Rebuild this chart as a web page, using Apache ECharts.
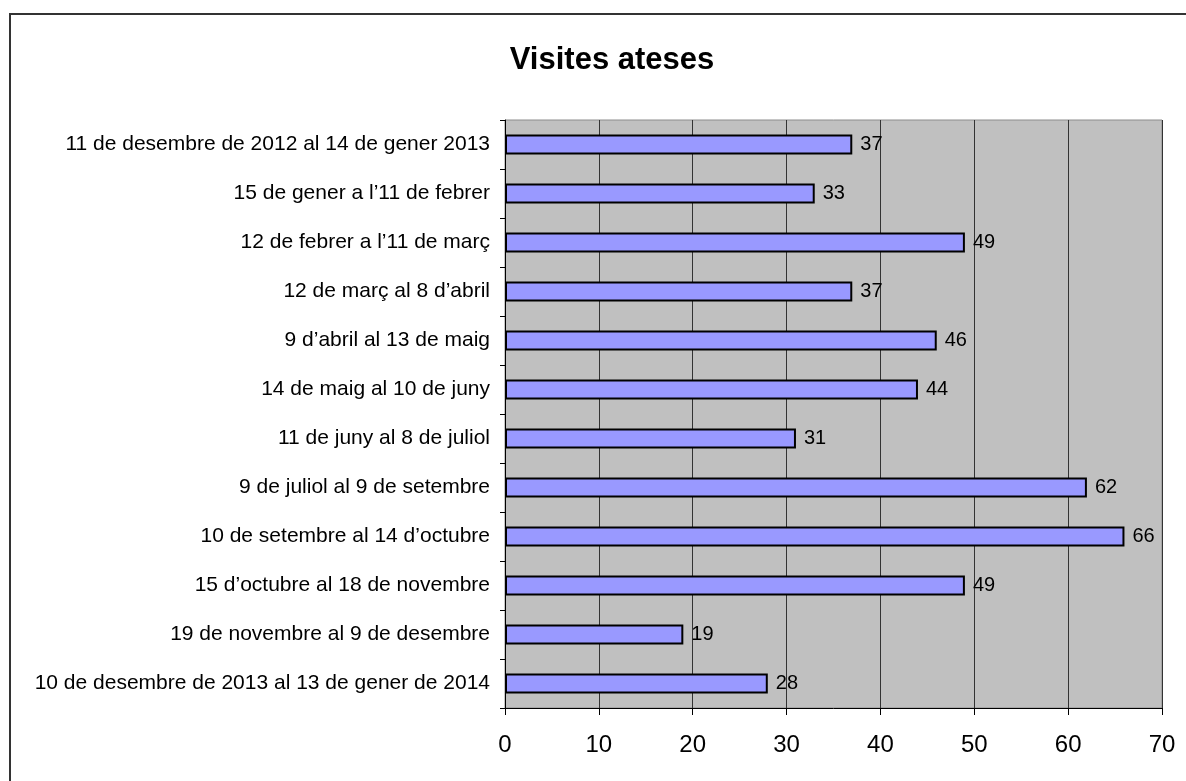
<!DOCTYPE html>
<html>
<head>
<meta charset="utf-8">
<script src="https://cdn.jsdelivr.net/npm/echarts@6/dist/echarts.min.js"></script>
<style>
  html, body { margin: 0; padding: 0; background: #fff; }
  #chart { width: 1186px; height: 781px; }
</style>
</head>
<body>
<div id="chart"></div>
<script>
// periodes (de dalt a baix)
const periodes = [
  '11 de desembre de 2012 al 14 de gener 2013',
  '15 de gener a l\u201911 de febrer',
  '12 de febrer a l\u201911 de març',
  '12 de març al 8 d\u2019abril',
  '9 d\u2019abril al 13 de maig',
  '14 de maig al 10 de juny',
  '11 de juny al 8 de juliol',
  '9 de juliol al 9 de setembre',
  '10 de setembre al 14 d\u2019octubre',
  '15 d\u2019octubre al 18 de novembre',
  '19 de novembre al 9 de desembre',
  '10 de desembre de 2013 al 13 de gener de 2014'
]
// visites ateses per periode
const visites = [37, 33, 49, 37, 46, 44, 31, 62, 66, 49, 19, 28]

const chart = echarts.init(document.getElementById('chart'))
const font = 'Liberation Sans, Arial, sans-serif'

const option = {
  backgroundColor: '#fff',
  animation: false,
  title: {
    text: 'Visites ateses',
    left: 607,
    textAlign: 'center',
    top: 40,
    textStyle: { fontFamily: font, fontSize: 31, fontWeight: 'bold', color: '#000' }
  },
  graphic: [{
    type: 'rect',
    shape: { x: 10, y: 14, width: 1200, height: 800 },
    style: { fill: 'none', stroke: '#333', lineWidth: 2 }
  }],
  grid: {
    left: 505,
    right: 24,
    top: 120,
    bottom: 73,
    show: true,
    backgroundColor: '#c0c0c0',
    borderWidth: 1,
    borderColor: '#8c8c8c'
  },
  xAxis: {
    type: 'value',
    min: 0,
    max: 70,
    interval: 10,
    axisLine: { show: true, lineStyle: { color: '#000', width: 1 } },
    axisTick: { show: true, length: 7, lineStyle: { color: '#000' } },
    axisLabel: { fontFamily: font, fontSize: 24, color: '#000', margin: 25 },
    splitLine: { show: true, lineStyle: { color: '#333', width: 1 } }
  },
  yAxis: {
    type: 'category',
    inverse: true,
    data: periodes,
    axisLine: { show: true, lineStyle: { color: '#000', width: 1 } },
    axisTick: { show: true, length: 5, lineStyle: { color: '#000' } },
    axisLabel: { fontFamily: font, fontSize: 21, color: '#000', margin: 15 }
  },
  series: [{
    type: 'bar',
    data: visites,
    barWidth: 20,
    itemStyle: { color: '#9999ff', borderColor: '#000', borderWidth: 2 },
    label: {
      show: true,
      position: 'right',
      distance: 8,
      fontFamily: font,
      fontSize: 20,
      color: '#000'
    }
  }]
}
chart.setOption(option)
</script>
</body>
</html>
